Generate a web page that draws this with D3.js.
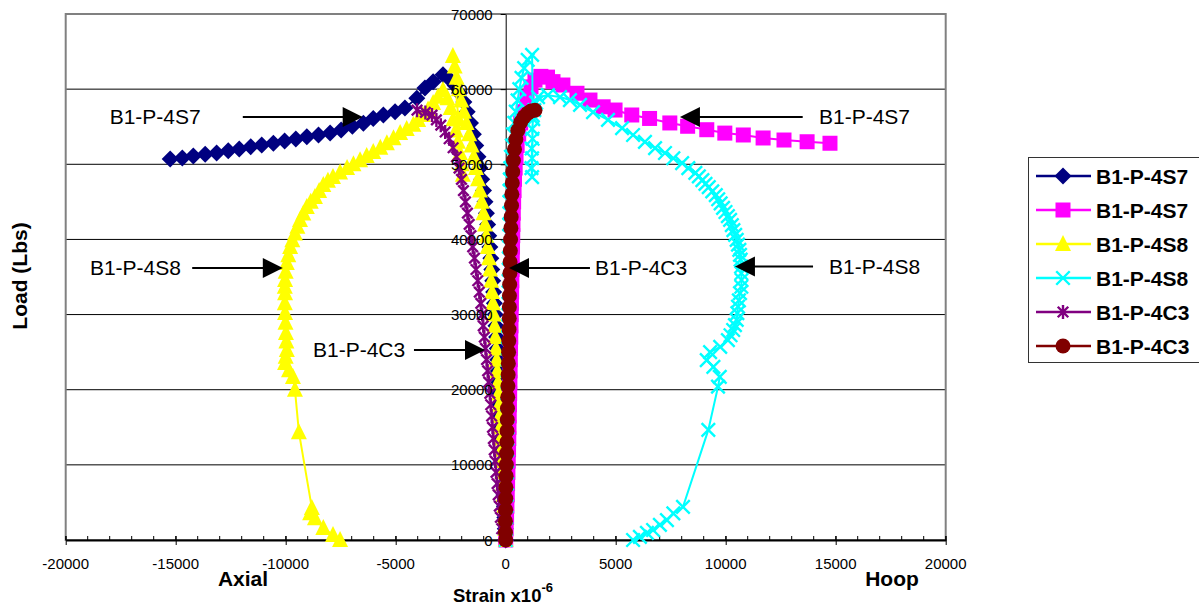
<!DOCTYPE html>
<html lang="en">
<head>
<meta charset="UTF-8">
<title>Load vs strain</title>
<script src="https://d3js.org/d3.v7.min.js"></script>
<style>
  body { margin: 0; background: #fff; }
  svg text { font-family: "Liberation Sans", Arial, sans-serif; fill: #000; }
</style>
</head>
<body>
<div id="chart"></div>
<script>
// ---- data (strain x10^-6, load in lbs) ----
const seriesNames = ['B1-P-4S7', 'B1-P-4S7', 'B1-P-4S8', 'B1-P-4S8', 'B1-P-4C3', 'B1-P-4C3']
const xTickValues = [-20000, -15000, -10000, -5000, 0, 5000, 10000, 15000, 20000]
const yTickValues = [0, 10000, 20000, 30000, 40000, 50000, 60000, 70000]

const axial4S7 = [[0,0],[-20,1500],[-40,3000],[-60,4500],[-80,6000],[-100,7500],[-120,9000],[-140,10500],[-160,12000],[-185,13500],[-210,15000],[-235,16500],[-260,18000],[-285,19500],[-310,21000],[-335,22500],[-360,24000],[-385,25500],[-415,27000],[-445,28500],[-480,30000],[-515,31500],[-550,33000],[-590,34500],[-630,36000],[-675,37500],[-720,39000],[-770,40500],[-820,42000],[-875,43500],[-940,45000],[-1010,46500],[-1090,48000],[-1170,49500],[-1260,51000],[-1360,52500],[-1470,54000],[-1600,55500],[-1750,57000],[-1900,58300],[-2100,59500],[-2300,60500],[-2550,61300],[-2850,61900],[-3300,61000],[-3670,60150],[-4040,58800],[-4580,57500],[-5030,57000],[-5560,56550],[-6020,56100],[-6470,55450],[-6970,55050],[-7480,54550],[-7980,54150],[-8510,53900],[-9040,53650],[-9540,53350],[-10050,53100],[-10560,52800],[-11090,52550],[-11590,52350],[-12110,52050],[-12610,51800],[-13140,51500],[-13660,51350],[-14200,51100],[-14700,50850],[-15250,50700]]

const hoop4S7 = [[0,0],[20,1500],[40,3000],[55,4500],[70,6000],[85,7500],[100,9000],[115,10500],[130,12000],[140,13500],[150,15000],[160,16500],[170,18000],[180,19500],[190,21000],[200,22500],[210,24000],[220,25500],[230,27000],[240,28500],[250,30000],[260,31500],[270,33000],[280,34500],[290,36000],[300,37500],[310,39000],[320,40500],[330,42000],[345,43500],[360,45000],[380,46500],[400,48000],[430,49500],[470,51000],[520,52500],[590,54000],[680,55500],[800,57000],[970,58900],[1150,60300],[1330,61200],[1600,61700],[1900,61600],[2150,61000],[2600,60550],[3240,59450],[3830,58550],[4430,57650],[4970,57220],[5730,56560],[6540,56100],[7460,55500],[8270,55060],[9140,54600],[9960,54150],[10800,53900],[11700,53500],[12650,53230],[13700,53000],[14740,52800]]

const axial4S8 = [[0,0],[-25,1500],[-50,3000],[-75,4500],[-100,6000],[-125,7500],[-150,9000],[-175,10500],[-200,12000],[-225,13500],[-250,15000],[-275,16500],[-300,18000],[-325,19500],[-350,21000],[-380,22500],[-410,24000],[-440,25500],[-470,27000],[-500,28500],[-540,30000],[-580,31500],[-620,33000],[-660,34500],[-710,36000],[-760,37500],[-820,39000],[-880,40500],[-940,42000],[-1010,43500],[-1090,45000],[-1170,46500],[-1260,48000],[-1350,49500],[-1450,51000],[-1550,52500],[-1660,54000],[-1780,55500],[-1900,57000],[-2020,58500],[-2130,60000],[-2230,61500],[-2320,63000],[-2400,64400],[-2150,56000],[-1950,48600],[-2000,50000],[-2080,51500],[-2170,53000],[-2270,54500],[-2380,56000],[-2500,57500],[-2650,58800],[-2850,59900],[-3080,59000],[-3300,58150],[-3530,57300],[-3760,56550],[-3980,55900],[-4200,55250],[-4500,54700],[-4800,54150],[-5100,53450],[-5400,52800],[-5700,52200],[-6020,51650],[-6320,51100],[-6620,50550],[-6920,50000],[-7210,49500],[-7530,48900],[-7850,48300],[-8080,47800],[-8290,47250],[-8480,46450],[-8670,45650],[-8860,45000],[-9040,44300],[-9200,43450],[-9350,42600],[-9470,41700],[-9580,40800],[-9700,39900],[-9800,39000],[-9880,37900],[-9950,36850],[-10000,35700],[-10030,34600],[-10040,33700],[-10030,32850],[-10040,31500],[-10030,30200],[-10010,28900],[-9990,27550],[-9970,26400],[-9950,25300],[-10000,24400],[-10030,23550],[-9850,22600],[-9670,21700],[-9580,20000],[-9400,14350],[-8810,4250],[-8890,3550],[-8670,2900],[-8290,1600],[-7850,650],[-7530,0]]

const hoop4S8 = [[0,0],[10,1500],[20,3000],[30,4500],[40,6000],[50,7500],[55,9000],[60,10500],[65,12000],[70,13500],[75,15000],[80,16500],[85,18000],[90,19500],[95,21000],[100,22500],[105,24000],[110,25500],[115,27000],[120,28500],[125,30000],[130,31500],[135,33000],[140,34500],[145,36000],[150,37500],[155,39000],[160,40500],[165,42000],[170,43500],[175,45000],[180,46500],[190,48000],[210,49500],[240,51000],[280,52500],[330,54000],[390,55500],[460,57000],[540,58500],[620,60000],[720,61500],[840,62800],[1000,63900],[1200,64550],[1230,56500],[1200,48300],[1170,49500],[1200,50800],[1180,52100],[1220,53400],[1200,54700],[1250,56000],[1300,57200],[1380,58200],[1470,58950],[1920,59200],[2470,58950],[2920,58550],[3380,57900],[3970,56950],[4650,55900],[5290,54800],[5790,53900],[6330,52970],[6790,52150],[7240,51500],[7620,50800],[8020,50150],[8300,49500],[8620,48850],[8780,48400],[8940,47900],[9080,47400],[9230,46950],[9390,46400],[9550,45900],[9660,45350],[9770,44800],[9880,44200],[9990,43650],[10100,43100],[10200,42600],[10280,41900],[10350,41250],[10430,40600],[10500,39950],[10560,39300],[10620,38600],[10650,37950],[10680,37300],[10700,36400],[10710,35500],[10720,34600],[10710,33700],[10650,32850],[10600,31900],[10560,31050],[10530,30200],[10500,29300],[10420,28600],[10340,27950],[10220,27250],[10100,26600],[9750,25700],[9290,25000],[9140,23950],[9440,23050],[9730,21700],[9650,20400],[9210,14650],[8060,4400],[7620,3550],[7330,2650],[7010,2000],[6700,1330],[6420,950],[6100,420],[5790,0]]

const axial4C3 = [[0,0],[-100,500],[-180,1500],[-240,3000],[-290,4500],[-340,6000],[-390,7500],[-440,9000],[-480,10500],[-520,12000],[-560,13500],[-600,15000],[-640,16500],[-680,18000],[-720,19500],[-770,21000],[-820,22500],[-870,24000],[-920,25500],[-970,27000],[-1020,28500],[-1070,30000],[-1130,31500],[-1200,33000],[-1270,34500],[-1350,36000],[-1420,37500],[-1500,39000],[-1580,40500],[-1660,42000],[-1740,43500],[-1830,45000],[-1920,46500],[-2010,48000],[-2120,49500],[-2240,51000],[-2390,52200],[-2570,53400],[-2750,54300],[-2950,55200],[-3150,55900],[-3350,56550],[-3650,56900],[-4030,57200]]

const hoop4C3 = [[0,0],[-10,1000],[-10,2500],[0,4000],[0,5500],[10,7000],[20,8500],[30,10000],[40,11500],[50,13000],[60,14500],[70,16000],[80,17500],[90,19000],[100,20500],[110,22000],[120,23500],[130,25000],[140,26500],[150,28000],[160,29500],[165,31000],[170,32500],[180,34000],[190,35500],[200,37000],[210,38500],[220,40000],[235,41500],[250,43000],[265,44500],[280,46000],[300,47500],[320,49000],[350,50500],[400,52000],[460,53300],[550,54500],[680,55600],[830,56300],[1000,56800],[1150,57100],[1330,57200]]

const annotations = [
  { label: 'B1-P-4S7', textX: -18000, lineX: -11950, tipX: -6500, load: 56300 },
  { label: 'B1-P-4S8', textX: -18900, lineX: -14250, tipX: -10130, load: 36200 },
  { label: 'B1-P-4C3', textX: -8760, lineX: -4170, tipX: -940, load: 25300 },
  { label: 'B1-P-4S7', textX: 14240, lineX: 13500, tipX: 7920, load: 56300 },
  { label: 'B1-P-4C3', textX: 4060, lineX: 3830, tipX: 150, load: 36200 },
  { label: 'B1-P-4S8', textX: 14700, lineX: 13970, tipX: 10420, load: 36400 }
]

// ---- styling ----
const series = [
  { data: axial4S7, color: '#000080', marker: 'diamond', size: 17 },
  { data: hoop4S7, color: '#ff00ff', marker: 'square', size: 15 },
  { data: axial4S8, color: '#ffff00', marker: 'triangle', size: 16 },
  { data: hoop4S8, color: '#00ffff', marker: 'cross', size: 15 },
  { data: axial4C3, color: '#800080', marker: 'star', size: 14 },
  { data: hoop4C3, color: '#800000', marker: 'circle', size: 15 }
]

const W = 1199, H = 608
const plot = { left: 65.7, right: 945.7, top: 14, bottom: 540 }

const svg = d3.select('#chart').append('svg')
  .attr('width', W)
  .attr('height', H)
  .style('background', '#fff')

const x = d3.scaleLinear().domain([-20000, 20000]).range([plot.left, plot.right])
const y = d3.scaleLinear().domain([0, 70000]).range([plot.bottom, plot.top])

// draws one marker at (0,0) into g
function drawMarker (g, type, color, s) {
  const h = s / 2
  if (type === 'diamond') {
    g.append('path').attr('d', `M0,${-h}L${h},0L0,${h}L${-h},0Z`).attr('fill', color)
  } else if (type === 'square') {
    g.append('rect').attr('x', -h).attr('y', -h).attr('width', s).attr('height', s).attr('fill', color)
  } else if (type === 'triangle') {
    g.append('path').attr('d', `M0,${-h - 1}L${h},${h - 1}L${-h},${h - 1}Z`).attr('fill', color)
  } else if (type === 'cross') {
    const c = h * 0.9
    g.append('path').attr('d', `M${-c},${-c}L${c},${c}M${-c},${c}L${c},${-c}`)
      .attr('stroke', color).attr('stroke-width', 2.4).attr('fill', 'none')
  } else if (type === 'star') {
    const c = h * 0.75
    g.append('path').attr('d', `M${-c},${-c}L${c},${c}M${-c},${c}L${c},${-c}M0,${-h}L0,${h}`)
      .attr('stroke', color).attr('stroke-width', 2.4).attr('fill', 'none')
  } else {
    g.append('circle').attr('r', h).attr('fill', color)
  }
}

// gridlines
svg.append('g')
  .selectAll('line')
  .data(yTickValues.filter(v => v > 0 && v < 70000))
  .enter().append('line')
  .attr('x1', plot.left).attr('x2', plot.right)
  .attr('y1', d => y(d)).attr('y2', d => y(d))
  .attr('stroke', '#000').attr('stroke-width', 1)

// plot frame
svg.append('rect')
  .attr('x', plot.left).attr('y', plot.top)
  .attr('width', plot.right - plot.left).attr('height', plot.bottom - plot.top)
  .attr('fill', 'none').attr('stroke', '#808080').attr('stroke-width', 2)

// y axis line + ticks at strain 0
const yAxis = svg.append('g')
  .attr('transform', `translate(${x(0)},0)`)
  .call(d3.axisLeft(y).tickValues(yTickValues).tickSize(5).tickSizeOuter(0).tickFormat(''))
yAxis.select('.domain').attr('stroke', '#000')
yAxis.selectAll('.tick line').attr('stroke', '#000')

// x axis line + major/minor ticks
const minorTicks = d3.range(-20000, 20001, 1000)
svg.append('g').selectAll('line')
  .data(minorTicks)
  .enter().append('line')
  .attr('x1', d => x(d)).attr('x2', d => x(d))
  .attr('y1', plot.bottom - 4).attr('y2', plot.bottom)
  .attr('stroke', '#000').attr('stroke-width', 1)

const xAxis = svg.append('g')
  .attr('transform', `translate(0,${plot.bottom})`)
  .call(d3.axisBottom(x).tickValues(xTickValues).tickSize(5).tickSizeOuter(0).tickFormat(''))
xAxis.select('.domain').attr('stroke', '#000').attr('stroke-width', 2)
xAxis.selectAll('.tick line').attr('stroke', '#000').attr('y1', -4)

// series
const line = d3.line().x(d => x(d[0])).y(d => y(d[1]))
series.forEach(s => {
  const g = svg.append('g')
  g.append('path')
    .datum(s.data)
    .attr('d', line)
    .attr('fill', 'none')
    .attr('stroke', s.color)
    .attr('stroke-width', 2)
  g.selectAll('g.mk')
    .data(s.data)
    .enter().append('g')
    .attr('class', 'mk')
    .attr('transform', d => `translate(${x(d[0])},${y(d[1])})`)
    .each(function () { drawMarker(d3.select(this), s.marker, s.color, s.size) })
})

// tick labels on top of the data
svg.append('g').selectAll('text')
  .data(yTickValues)
  .enter().append('text')
  .attr('x', x(0) - 13)
  .attr('y', d => y(d) + 5.5)
  .attr('text-anchor', 'end')
  .style('font-size', '15px')
  .text(d => d)

svg.append('g').selectAll('text')
  .data(xTickValues)
  .enter().append('text')
  .attr('x', d => x(d))
  .attr('y', 568.5)
  .attr('text-anchor', 'middle')
  .style('font-size', '15px')
  .text(d => d)

// axis titles
svg.append('text')
  .attr('transform', 'translate(27,276) rotate(-90)')
  .attr('text-anchor', 'middle')
  .style('font-size', '21px').style('font-weight', 'bold')
  .text('Load (Lbs)')

svg.append('text').attr('x', 243).attr('y', 586).attr('text-anchor', 'middle')
  .style('font-size', '21px').style('font-weight', 'bold').text('Axial')
svg.append('text').attr('x', 892).attr('y', 586).attr('text-anchor', 'middle')
  .style('font-size', '21px').style('font-weight', 'bold').text('Hoop')

const strain = svg.append('text').attr('x', 453).attr('y', 602)
  .style('font-size', '18.5px').style('font-weight', 'bold')
strain.append('tspan').text('Strain x10')
strain.append('tspan').attr('dy', -10).style('font-size', '13px').text('-6')

// annotations with arrows
const ann = svg.append('g')
annotations.forEach(a => {
  const yy = y(a.load)
  const tip = x(a.tipX)
  const dir = Math.sign(a.tipX - a.lineX)
  ann.append('line')
    .attr('x1', x(a.lineX)).attr('x2', tip - dir * 18)
    .attr('y1', yy).attr('y2', yy)
    .attr('stroke', '#000').attr('stroke-width', 2)
  ann.append('path')
    .attr('d', `M${tip},${yy}L${tip - dir * 20},${yy - 10}L${tip - dir * 20},${yy + 10}Z`)
    .attr('fill', '#000')
  ann.append('text')
    .attr('x', x(a.textX)).attr('y', yy + 7.5)
    .style('font-size', '21px')
    .text(a.label)
})

// legend
const legend = svg.append('g')
legend.append('rect')
  .attr('x', 1028.5).attr('y', 157.5).attr('width', 190).attr('height', 205)
  .attr('fill', '#fff').attr('stroke', '#333').attr('stroke-width', 1)
series.forEach((s, i) => {
  const ry = 176 + i * 34
  const row = legend.append('g')
  row.append('line').attr('x1', 1036).attr('x2', 1091).attr('y1', ry).attr('y2', ry)
    .attr('stroke', s.color).attr('stroke-width', 2.5)
  const m = row.append('g').attr('transform', `translate(1063,${ry})`)
  drawMarker(m, s.marker, s.color, s.size)
  row.append('text').attr('x', 1096).attr('y', ry + 7.5)
    .style('font-size', '21px').style('font-weight', 'bold')
    .text(seriesNames[i])
})
</script>
</body>
</html>
